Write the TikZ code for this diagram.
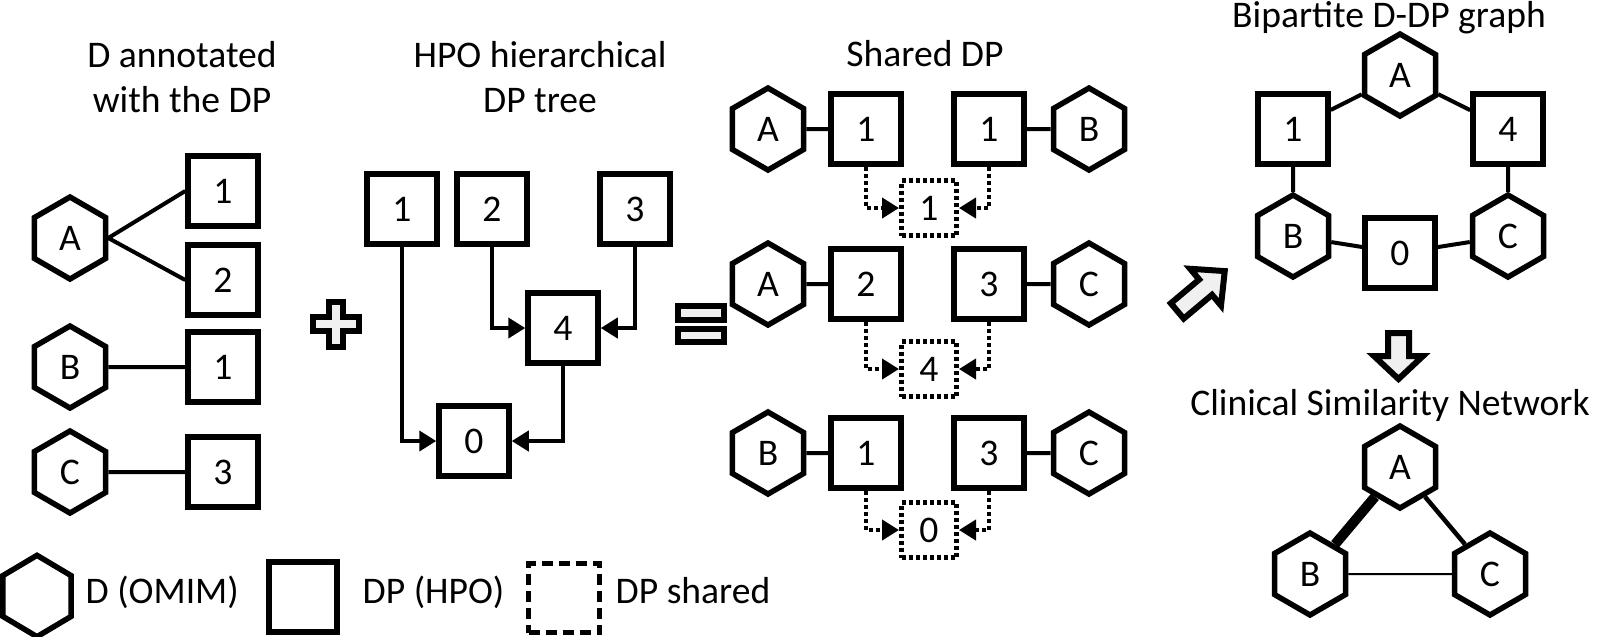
\documentclass[tikz,border=0pt]{standalone}
\usepackage{fontspec}
\setmainfont{Carlito}
\usetikzlibrary{shapes.geometric,arrows.meta}

\tikzset{
  dpbox/.style={draw, line width=0.55mm, minimum width=7mm, minimum height=7mm, inner sep=0pt},
  dhex/.style={draw, line width=0.55mm, regular polygon, regular polygon sides=6,
    shape border rotate=30, minimum size=8.2mm, inner sep=0pt},
  dpshared/.style={draw, line width=0.5mm, dash pattern=on 0.4mm off 0.3mm,
    minimum width=5.5mm, minimum height=5.5mm, inner sep=0pt},
  link/.style={line width=0.4mm},
  isa/.style={line width=0.4mm, -{Triangle[length=1.7mm, width=2mm]}},
  toshared/.style={isa, dash pattern=on 0.4mm off 0.3mm},
  hollow/.style={draw, line width=0.6mm, fill=gray!12, line join=miter},
  title/.style={align=center, inner sep=0pt}
}

\begin{document}
\begin{tikzpicture}[x=0.1mm, y=-0.1mm, font=\fontsize{10.7pt}{13pt}\selectfont]
  \useasboundingbox (0,0) rectangle (1600,636);

  % D annotated with the DP
  \node[title] at (182,77) {D annotated\\with the DP};
  \node[dhex] (dA) at (70,238) {A};
  \node[dpbox] (pA1) at (223,191) {1};
  \node[dpbox] (pA2) at (223,280) {2};
  \node[dhex] (dB) at (70,367) {B};
  \node[dpbox] (pB1) at (223,367) {1};
  \node[dhex] (dC) at (70,472) {C};
  \node[dpbox] (pC3) at (223,472) {3};
  \draw[link] (dA.east) -- (pA1.west);
  \draw[link] (dA.east) -- (pA2.west);
  \draw[link] (dB) -- (pB1);
  \draw[link] (dC) -- (pC3);

  \draw[hollow] (329,302) -- (343,302) -- (343,317) -- (359,317) -- (359,331) -- (343,331)
    -- (343,347) -- (329,347) -- (329,331) -- (313,331) -- (313,317) -- (329,317) -- cycle;

  % HPO tree
  \node[title] at (540,77) {HPO hierarchical\\DP tree};
  \node[dpbox] (t1) at (402,209) {1};
  \node[dpbox] (t2) at (492,209) {2};
  \node[dpbox] (t3) at (635,209) {3};
  \node[dpbox] (t4) at (563,328) {4};
  \node[dpbox] (t0) at (474,441) {0};
  \draw[isa] (t1.south) |- (t0.west);
  \draw[isa] (t2.south) |- (t4.west);
  \draw[isa] (t3.south) |- (t4.east);
  \draw[isa] (t4.south) |- (t0.east);

  \draw[hollow] (678,306) rectangle (724,320);
  \draw[hollow] (678,329) rectangle (724,342);

  % shared DP
  \node[title, anchor=base] at (925,66) {Shared DP};
  \node[dhex] (r1a) at (768,129) {A};
  \node[dpbox] (r1b) at (866,129) {1};
  \node[dpbox] (r1c) at (989,129) {1};
  \node[dhex] (r1d) at (1089,129) {B};
  \node[dpshared] (r1s) at (929,208) {1};
  \draw[link] (r1a) -- (r1b);
  \draw[link] (r1c) -- (r1d);
  \draw[toshared] (r1b.south) |- (r1s.west);
  \draw[toshared] (r1c.south) |- (r1s.east);

  \node[dhex] (r2a) at (768,284) {A};
  \node[dpbox] (r2b) at (866,284) {2};
  \node[dpbox] (r2c) at (989,284) {3};
  \node[dhex] (r2d) at (1089,284) {C};
  \node[dpshared] (r2s) at (929,369) {4};
  \draw[link] (r2a) -- (r2b);
  \draw[link] (r2c) -- (r2d);
  \draw[toshared] (r2b.south) |- (r2s.west);
  \draw[toshared] (r2c.south) |- (r2s.east);

  \node[dhex] (r3a) at (768,453) {B};
  \node[dpbox] (r3b) at (866,453) {1};
  \node[dpbox] (r3c) at (989,453) {3};
  \node[dhex] (r3d) at (1089,453) {C};
  \node[dpshared] (r3s) at (929,530) {0};
  \draw[link] (r3a) -- (r3b);
  \draw[link] (r3c) -- (r3d);
  \draw[toshared] (r3b.south) |- (r3s.west);
  \draw[toshared] (r3c.south) |- (r3s.east);

  \draw[hollow, shift={(1201,291)}, rotate=40] (-31,-10) -- (6,-10) -- (6,-24) -- (31,0)
    -- (6,24) -- (6,10) -- (-31,10) -- cycle;

  % bipartite graph
  \node[title, anchor=base] at (1389,27) {Bipartite D-DP graph};
  \node[dhex] (bgA) at (1400,75) {A};
  \node[dpbox] (bg1) at (1293,129) {1};
  \node[dpbox] (bg4) at (1508,129) {4};
  \node[dhex] (bgB) at (1293,236) {B};
  \node[dhex] (bgC) at (1508,236) {C};
  \node[dpbox] (bg0) at (1400,253) {0};
  \draw[link] (bgA) -- (bg1);
  \draw[link] (bgA) -- (bg4);
  \draw[link] (bg1) -- (bgB);
  \draw[link] (bg4) -- (bgC);
  \draw[link] (bgB) -- (bg0);
  \draw[link] (bgC) -- (bg0);

  \draw[hollow] (1388,333) -- (1409,333) -- (1409,356) -- (1423,356) -- (1398.5,379)
    -- (1374,356) -- (1388,356) -- cycle;

  % clinical similarity network
  \node[title, anchor=base] at (1390,415) {Clinical Similarity Network};
  \node[dhex] (csA) at (1400,467) {A};
  \node[dhex] (csB) at (1310,574) {B};
  \node[dhex] (csC) at (1490,574) {C};
  \draw[line width=1mm] (csA) -- (csB);
  \draw[line width=0.45mm] (csA) -- (csC);
  \draw[line width=0.2mm] (csB) -- (csC);

  % legend
  \node[dhex, minimum size=7.9mm, yscale=1.03] (lgD) at (37,596) {};
  \node[title, anchor=base west] at (85,603) {D (OMIM)};
  \node[dpbox, minimum width=6.8mm] (lgP) at (303,597) {};
  \node[title, anchor=base west] at (362,603) {DP (HPO)};
  \node[dpbox, minimum width=7.1mm, minimum height=6.9mm, dash pattern=on 1.1mm off 0.6mm] (lgS) at (564,598) {};
  \node[title, anchor=base west] at (615,603) {DP shared};
\end{tikzpicture}
\end{document}
